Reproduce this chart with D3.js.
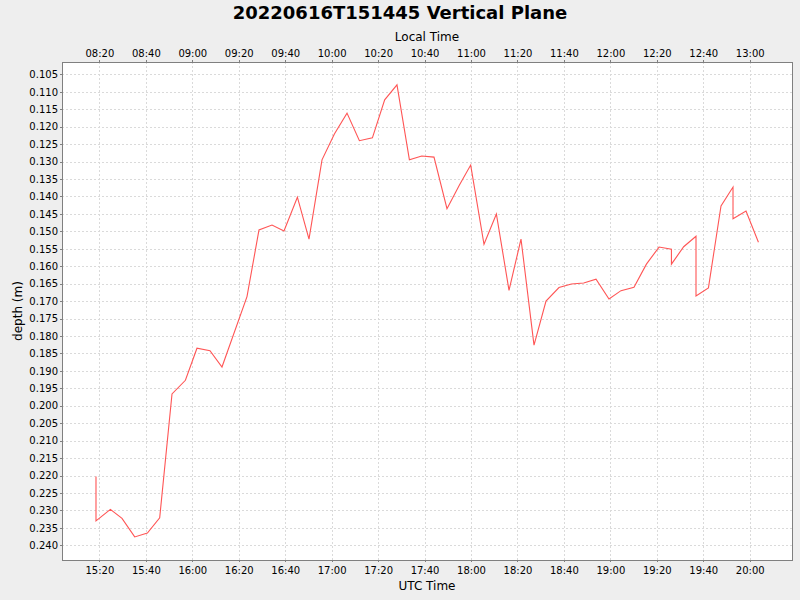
<!DOCTYPE html>
<html>
<head>
<meta charset="utf-8">
<script src="https://cdn.jsdelivr.net/npm/d3@7"></script>
<style>
    body  { margin: 0; background: #eeeeee; }
    text  { font-family: 'DejaVu Sans', sans-serif; fill: #000; }
    .grid line  { stroke: #dadada; stroke-dasharray: 2,2; shape-rendering: crispEdges; }
    .grid path  { display: none; }
    .axis path, .axis line  { stroke: #808080; shape-rendering: crispEdges; }
    .axis text  { font-size: 10px; }
</style>
</head>
<body>
<div id="graph"></div>
<script>

// Sample times (UTC, 2022-06-16) and depths
var sampleTimes = [ '15:18:32', '15:18:32', '15:24:44', '15:29:44', '15:35:12', '15:40:40', '15:45:58',
                    '15:51:16', '15:57:02', '16:02:01', '16:07:37', '16:12:47', '16:23:33', '16:28:43',
                    '16:34:19', '16:39:29', '16:45:15', '16:50:15', '16:55:51', '17:01:11', '17:06:37',
                    '17:11:57', '17:17:33', '17:22:50', '17:28:08', '17:33:29', '17:38:47', '17:44:04',
                    '17:49:40', '17:54:58', '17:59:52', '18:05:36', '18:10:56', '18:16:22', '18:21:32',
                    '18:27:08', '18:32:18', '18:37:53', '18:43:14', '18:48:32', '18:53:50', '18:59:25',
                    '19:04:35', '19:10:11', '19:15:32', '19:20:58', '19:26:18', '19:26:18', '19:31:35',
                    '19:36:53', '19:36:53', '19:42:14', '19:47:39', '19:52:49', '19:52:49', '19:58:25',
                    '20:03:46' ];

var depths = [ 0.2203, 0.2330, 0.2297, 0.2323, 0.2376, 0.2365, 0.2321,
               0.1966, 0.1927, 0.1835, 0.1842, 0.1889, 0.1687, 0.1496,
               0.1482, 0.1499, 0.1402, 0.1522, 0.1295, 0.1221, 0.1161,
               0.1240, 0.1232, 0.1123, 0.1080, 0.1295, 0.1284, 0.1287,
               0.1435, 0.1368, 0.1310, 0.1537, 0.1450, 0.1669, 0.1522,
               0.1826, 0.1700, 0.1661, 0.1651, 0.1648, 0.1637, 0.1694,
               0.1670, 0.1660, 0.1594, 0.1545, 0.1551, 0.1594, 0.1544,
               0.1514, 0.1685, 0.1662, 0.1427, 0.1373, 0.1464, 0.1442,
               0.1531 ];

var xRange = [ '15:03:54', '20:18:13' ];
var yRange = [ 0.10144, 0.24422 ];
var localOffsetHours = -7;

var chartTitle = '20220616T151445 Vertical Plane';
var topTitle   = 'Local Time';
var xTitle     = 'UTC Time';
var yTitle     = 'depth (m)';

function ToDate (s)
{
    var p = s.split (':');
    return new Date (Date.UTC (2022, 5, 16, +p[0], +p[1], +p[2]));
}

var fullW = 800, fullH = 600;
var margin = { top: 62, right: 8, bottom: 40, left: 62 };
var width  = fullW - margin.left - margin.right;
var height = fullH - margin.top  - margin.bottom;

var root = d3.select ('#graph')
             .append ('svg')
             .attr ('width', fullW)
             .attr ('height', fullH);

root.append ('rect')
    .attr ('width', fullW)
    .attr ('height', fullH)
    .attr ('fill', '#eeeeee');

var svg = root.append ('g')
              .attr ('transform', 'translate(' + margin.left + ',' + margin.top + ')');

var xScale = d3.scaleUtc ()
               .domain ( xRange.map (ToDate) )
               .range ( [ 0, width ] );

// depth grows downward
var yScale = d3.scaleLinear ()
               .domain ( yRange )
               .range ( [ 0, height ] );

var everyTwenty = d3.utcMinute.every (20);
var yTickVals   = d3.range (0.105, 0.2401, 0.005);

svg.append ('rect')
   .attr ('width', width)
   .attr ('height', height)
   .attr ('fill', '#ffffff');

// grid lines from long ticks
svg.append ('g')
   .attr ('class', 'grid')
   .call (d3.axisBottom (xScale).ticks (everyTwenty).tickSize (height).tickFormat (''));

svg.append ('g')
   .attr ('class', 'grid')
   .call (d3.axisRight (yScale).tickValues (yTickVals).tickSize (width).tickFormat (''));

// axes
var fmt = d3.utcFormat ('%H:%M');

svg.append ('g')
   .attr ('class', 'axis')
   .attr ('transform', 'translate(0,' + height + ')')
   .call (d3.axisBottom (xScale).ticks (everyTwenty).tickSize (2).tickSizeOuter (0).tickPadding (5).tickFormat (fmt));

svg.append ('g')
   .attr ('class', 'axis')
   .call (d3.axisTop (xScale).ticks (everyTwenty).tickSize (2).tickSizeOuter (0).tickPadding (3)
            .tickFormat (function (d) { return fmt (d3.utcHour.offset (d, localOffsetHours)); }));

svg.append ('g')
   .attr ('class', 'axis')
   .call (d3.axisLeft (yScale).tickValues (yTickVals).tickSize (2).tickSizeOuter (0).tickPadding (2)
            .tickFormat (d3.format ('.3f')));

// plot outline
svg.append ('rect')
   .attr ('x', 0.5)
   .attr ('y', 0.5)
   .attr ('width', width)
   .attr ('height', height)
   .attr ('fill', 'none')
   .attr ('stroke', '#808080');

// depth series
var series = sampleTimes.map (function (t, i) { return { x: ToDate (t), y: depths[i] }; });

var line = d3.line ()
             .x (function (d) { return xScale (d.x); })
             .y (function (d) { return yScale (d.y); });

svg.append ('path')
   .datum (series)
   .attr ('d', line)
   .attr ('fill', 'none')
   .attr ('stroke', '#ff5555')
   .attr ('stroke-width', 1.1);

// titles
root.append ('text')
    .attr ('x', fullW / 2)
    .attr ('y', 19)
    .attr ('text-anchor', 'middle')
    .style ('font-size', '18px')
    .style ('font-weight', 'bold')
    .text (chartTitle);

root.append ('text')
    .attr ('x', margin.left + width / 2)
    .attr ('y', 41)
    .attr ('text-anchor', 'middle')
    .style ('font-size', '12px')
    .text (topTitle);

root.append ('text')
    .attr ('x', margin.left + width / 2)
    .attr ('y', 590)
    .attr ('text-anchor', 'middle')
    .style ('font-size', '12px')
    .text (xTitle);

root.append ('text')
    .attr ('transform', 'translate(22,' + (margin.top + height / 2) + ') rotate(-90)')
    .attr ('text-anchor', 'middle')
    .style ('font-size', '12px')
    .text (yTitle);

</script>
</body>
</html>
